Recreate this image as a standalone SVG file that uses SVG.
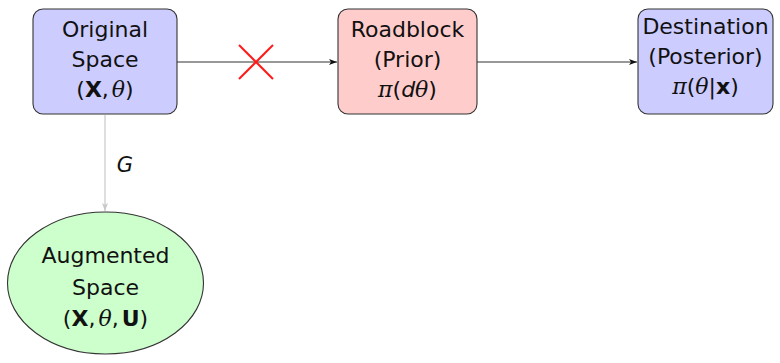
<svg xmlns="http://www.w3.org/2000/svg" width="780" height="363" viewBox="0 0 780 363">
  <style>
    .node { stroke: #333; stroke-width: 1.1; }
    .blue { fill: #ccccff; }
    .red { fill: #ffcccc; }
    .green { fill: #ccffcc; }
    text { font-family: "DejaVu Sans", sans-serif; font-size: 22px; fill: #111; text-anchor: middle; }
    .m { font-family: "DejaVu Serif", serif; font-style: italic; }
    .b { font-weight: bold; }
    .i { font-style: italic; }
    .edge { fill: none; stroke: #333; stroke-width: 1.2; }
    .gray { stroke: #c8c8c8; }
  </style>
  <defs>
    <marker id="ah" viewBox="0 0 8 6" refX="8" refY="3" markerWidth="8" markerHeight="6" markerUnits="userSpaceOnUse" orient="auto">
      <path d="M0,0 L8,3 L0,6 L2,3 Z" fill="#111"/>
    </marker>
    <marker id="ahg" viewBox="0 0 8 6" refX="8" refY="3" markerWidth="8" markerHeight="6" markerUnits="userSpaceOnUse" orient="auto">
      <path d="M0,0 L8,3 L0,6 L2,3 Z" fill="#c8c8c8"/>
    </marker>
  </defs>

  <g id="connectors">
    <line class="edge" x1="177" y1="62" x2="337" y2="62" marker-end="url(#ah)"/>
    <line class="edge" x1="477" y1="62" x2="637" y2="62" marker-end="url(#ah)"/>
    <line class="edge gray" x1="105" y1="115" x2="105" y2="211" marker-end="url(#ahg)"/>
    <text x="125" y="172" class="i" style="font-size:21px">G</text>
    <g id="blocked" stroke="#ff1a1a" stroke-width="2">
      <line x1="239" y1="45" x2="273" y2="79"/>
      <line x1="273" y1="45" x2="239" y2="79"/>
    </g>
  </g>

  <g id="original">
    <rect class="node blue" x="33" y="9" width="144" height="105" rx="10"/>
    <text x="105" y="37">Original</text>
    <text x="105" y="67">Space</text>
    <text x="105" y="97">(<tspan class="b">X</tspan>,<tspan class="m" dx="3">θ</tspan>)</text>
  </g>

  <g id="roadblock">
    <rect class="node red" x="338" y="9" width="139" height="105" rx="10"/>
    <text x="407.5" y="37">Roadblock</text>
    <text x="407.5" y="67">(Prior)</text>
    <text x="407.5" y="97"><tspan class="m">π</tspan>(<tspan class="i">d</tspan><tspan class="m">θ</tspan>)</text>
  </g>

  <g id="destination">
    <rect class="node blue" x="638" y="9" width="135" height="105" rx="10"/>
    <text x="705.5" y="34">Destination</text>
    <text x="705.5" y="64">(Posterior)</text>
    <text x="705.5" y="94"><tspan class="m">π</tspan>(<tspan class="m">θ</tspan>|<tspan class="b">x</tspan>)</text>
  </g>

  <g id="augmented">
    <ellipse class="node green" cx="105.5" cy="283" rx="98" ry="71"/>
    <text x="105.5" y="263">Augmented</text>
    <text x="105.5" y="295">Space</text>
    <text x="105.5" y="326">(<tspan class="b">X</tspan>,<tspan class="m" dx="3">θ</tspan>,<tspan class="b" dx="3">U</tspan>)</text>
  </g>
</svg>
